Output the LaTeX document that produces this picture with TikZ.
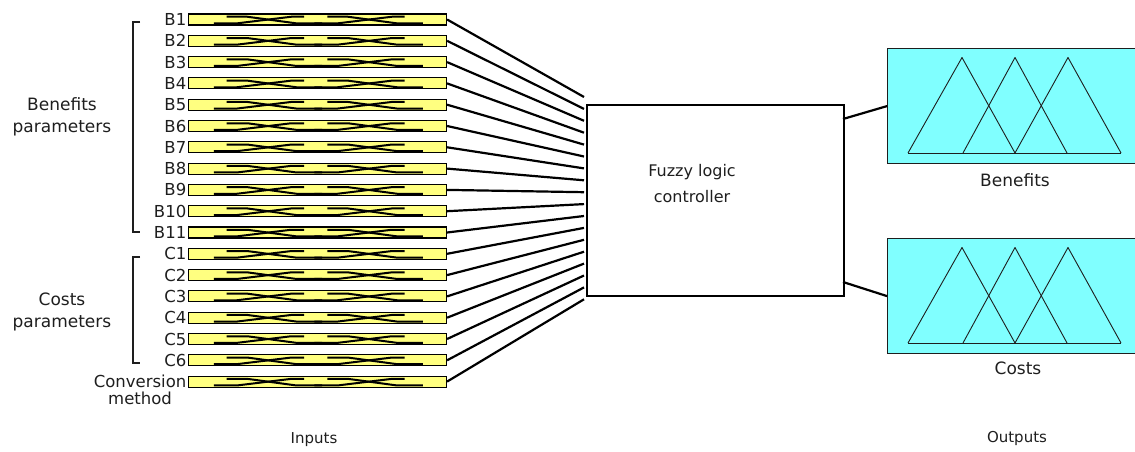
\documentclass[tikz,border=0pt]{standalone}
\usepackage{fontspec}
\setmainfont{DejaVu Sans}
\definecolor{baryellow}{RGB}{255,255,128}
\definecolor{mfcyan}{RGB}{128,255,255}
\definecolor{ink}{RGB}{30,30,30}
\begin{document}
\begin{tikzpicture}[x=1pt,y=-1pt,
  txt/.style={text=ink,inner sep=1.5pt,font=\fontsize{16.5}{21}\selectfont},
  grouptxt/.style={text=ink,align=center,font=\fontsize{17}{22}\selectfont},
  inbar/.style={draw=black,line width=1.1pt,fill=baryellow,anchor=west,
    minimum width=258pt,minimum height=11pt,inner sep=0pt},
  trace/.style={draw=black,line width=2pt,line join=miter},
  wire/.style={draw=black,line width=2.2pt},
  bracket/.style={draw=ink,line width=1.3pt},
  mfbox/.style={draw=ink,fill=mfcyan,line width=1.2pt,anchor=north west,
    minimum width=248pt,minimum height=115pt,inner sep=0pt},
  mfline/.style={draw=ink,line width=0.9pt,line join=round}]
\useasboundingbox (0,0) rectangle (1135,452);

% input variables: bars with their labels
\foreach \lab [count=\i from 0] in {B1,B2,B3,B4,B5,B6,B7,B8,B9,B10,B11,C1,C2,C3,C4,C5,C6,Conversion}{
  \node[inbar] (bar\i) at (188,{19.5+21.3*\i}) {};
  \node[txt,anchor=east] (lab\i) at (bar\i.west) {\lab};
  % membership traces inside the bar (u along the bar, v up from its bottom)
  \begin{scope}[shift={(bar\i.south west)},x=258pt,y=11pt]
    \clip (0.01,0.05) rectangle (0.99,0.95);
    \foreach \s in {0,0.39}{
      \begin{scope}[xshift=\s*258pt]
        \draw[trace] (0.10,0.2)--(0.19,0.2)--(0.40,0.8)--(0.45,0.8);
        \draw[trace] (0.15,0.8)--(0.23,0.8)--(0.42,0.2)--(0.52,0.2);
      \end{scope}
    }
  \end{scope}
}
\node[txt,anchor=north] (labm) at ([yshift=-1pt]lab17.south) {method};

% group brackets and captions
\draw[bracket] (140,22)--(133,22)--(133,232)--(140,232);
\draw[bracket] (140,257)--(133,257)--(133,363)--(140,363);
\node[grouptxt] (gb) at (62,117) {Benefits\\parameters};
\node[grouptxt] (gc) at (62,312) {Costs\\parameters};

% controller
\node[draw=black,line width=2pt,anchor=north west,minimum width=257pt,
      minimum height=191pt,inner sep=0pt] (ctrl) at (586,104) {};
\node[text=ink,align=center,font=\fontsize{16}{26}\selectfont] (ctrltxt) at (692,184)
  {Fuzzy logic\\controller};

% wires from each input into the controller
\foreach \i in {0,...,17}{
  \coordinate (end\i) at (584,{97+11.9*\i});
  \draw[wire] (bar\i.east) -- (end\i);
}

% output membership function boxes
\node[mfbox] (outB) at (887,48) {};
\node[mfbox] (outC) at (887,238) {};
\foreach \b in {outB,outC}{
  \begin{scope}[shift={(\b.north west)}]
    \draw[mfline] (21,105)--(75,9.5)--(128,105);
    \draw[mfline] (76,105)--(128,9.5)--(180,105);
    \draw[mfline] (128,105)--(181,9.5)--(234,105);
    \draw[mfline] (21,105)--(234,105);
  \end{scope}
}
\node[txt,font=\fontsize{17}{22}\selectfont] (tb) at (1015,180) {Benefits};
\node[txt,font=\fontsize{17}{22}\selectfont] (tc) at (1018,368) {Costs};

% controller to outputs
\coordinate (oB) at (843,119);
\coordinate (oC) at (843,282);
\draw[wire] (oB) -- (outB.west);
\draw[wire] (oC) -- (outC.west);

% column captions
\node[txt,font=\fontsize{15}{18}\selectfont] (cin) at (314,440) {Inputs};
\node[txt,font=\fontsize{15}{18}\selectfont] (cout) at (1017,438) {Outputs};
\end{tikzpicture}
\end{document}
